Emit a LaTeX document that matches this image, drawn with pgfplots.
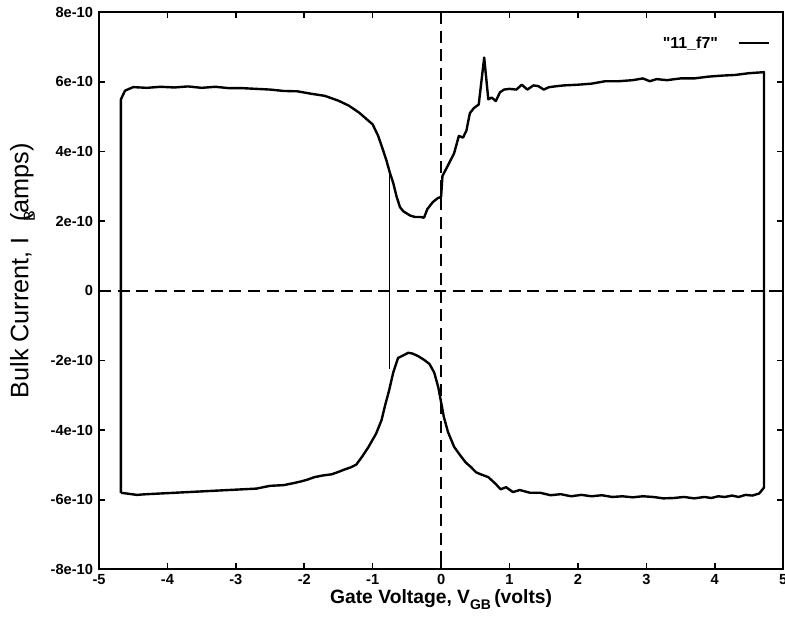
\documentclass[border={7.5pt 8pt -5pt 2pt}]{standalone}
\usepackage{fontspec}
\setmainfont{Liberation Sans}
\usepackage{pgfplots}
\pgfplotsset{compat=1.18}
\pgfplotstableread{
x y
-4.68 -5.80
-4.68 5.50
-4.62 5.75
-4.5 5.85
-4.3 5.83
-4.1 5.86
-3.9 5.84
-3.7 5.87
-3.5 5.83
-3.3 5.86
-3.1 5.82
-2.9 5.82
-2.7 5.80
-2.5 5.78
-2.3 5.74
-2.1 5.73
-1.9 5.66
-1.7 5.60
-1.5 5.46
-1.35 5.32
-1.2 5.12
-1.1 4.95
-1.0 4.78
-0.92 4.45
-0.85 4.05
-0.8 3.75
-0.75 3.40
-0.7 3.10
-0.65 2.70
-0.6 2.40
-0.55 2.28
-0.5 2.22
-0.45 2.16
-0.38 2.12
-0.3 2.12
-0.25 2.10
-0.2 2.35
-0.12 2.55
-0.05 2.66
0.0 2.70
0.02 3.30
0.1 3.60
0.19 3.95
0.26 4.45
0.32 4.40
0.37 4.60
0.42 5.10
0.48 5.25
0.55 5.35
0.63 6.70
0.69 5.50
0.74 5.55
0.8 5.45
0.86 5.70
0.92 5.78
1.0 5.80
1.1 5.78
1.18 5.92
1.26 5.78
1.35 5.90
1.42 5.88
1.5 5.78
1.58 5.85
1.7 5.88
1.8 5.90
2.0 5.92
2.2 5.95
2.4 6.02
2.6 6.02
2.8 6.05
2.95 6.10
3.05 6.02
3.15 6.08
3.3 6.05
3.5 6.10
3.7 6.10
3.9 6.15
4.1 6.18
4.3 6.20
4.5 6.25
4.72 6.28
4.72 -5.65
4.65 -5.82
4.55 -5.88
4.45 -5.86
4.35 -5.92
4.25 -5.88
4.15 -5.92
4.05 -5.90
3.95 -5.95
3.85 -5.92
3.7 -5.96
3.55 -5.92
3.4 -5.95
3.25 -5.96
3.1 -5.92
2.95 -5.90
2.8 -5.93
2.65 -5.90
2.5 -5.92
2.35 -5.87
2.2 -5.90
2.05 -5.86
1.9 -5.90
1.75 -5.84
1.6 -5.87
1.45 -5.80
1.3 -5.80
1.15 -5.72
1.05 -5.78
0.95 -5.64
0.87 -5.70
0.8 -5.55
0.69 -5.35
0.58 -5.27
0.51 -5.21
0.43 -5.05
0.36 -4.93
0.27 -4.70
0.19 -4.48
0.1 -4.05
0.04 -3.62
-0.04 -2.78
-0.1 -2.35
-0.17 -2.10
-0.25 -1.98
-0.34 -1.87
-0.42 -1.80
-0.48 -1.78
-0.55 -1.85
-0.63 -1.93
-0.7 -2.35
-0.76 -2.86
-0.82 -3.30
-0.87 -3.71
-0.95 -4.10
-1.06 -4.48
-1.15 -4.75
-1.24 -4.99
-1.32 -5.07
-1.41 -5.13
-1.5 -5.20
-1.6 -5.27
-1.72 -5.30
-1.85 -5.35
-1.95 -5.42
-2.04 -5.47
-2.15 -5.52
-2.3 -5.58
-2.5 -5.60
-2.7 -5.68
-2.9 -5.70
-3.1 -5.72
-3.3 -5.74
-3.5 -5.76
-3.7 -5.78
-3.9 -5.80
-4.1 -5.82
-4.3 -5.84
-4.45 -5.86
-4.6 -5.82
-4.68 -5.80
}\loopdata
\begin{document}
\begin{tikzpicture}
\begin{axis}[
  width=514.5pt, height=419pt, scale only axis,
  xmin=-5, xmax=5, ymin=-8, ymax=8,
  xtick={-5,-4,...,5},
  xticklabels={-5,-4,-3,-2,-1,0,1,2,3,4,5},
  ytick={-8,-6,...,8},
  yticklabels={-8e-10,-6e-10,-4e-10,-2e-10,0,2e-10,4e-10,6e-10,8e-10},
  tick align=inside, major tick length=4.5pt,
  tick style={line width=1.2pt, black},
  axis line style={line width=1.6pt},
  tick label style={font=\fontsize{11}{12}\selectfont\bfseries},
  yticklabel style={xshift=-1pt},
  xlabel={\bfseries Gate Voltage, V\raisebox{-0.6ex}{\fontsize{10.5}{10}\selectfont GB}\,(volts)},
  xlabel style={font=\fontsize{14.5}{15}\selectfont, yshift=3pt},
  ylabel={Bulk Current, I\hspace{0.6em}\rlap{\raisebox{-0.5ex}{\fontsize{12}{12}\selectfont B}}(amps)},
  ylabel style={font=\fontsize{19}{20}\selectfont, at={(axis description cs:0,0.5)},
    anchor=south, inner sep=0pt, yshift=48pt, xshift=15pt},
  legend style={at={(rel axis cs:1,1)}, anchor=north east, draw=none, fill=none,
    inner sep=0pt, xshift=-9.75pt, yshift=-16pt,
    font=\fontsize{12}{13}\selectfont\bfseries, legend cell align=right},
  legend plot pos=right,
  legend image code/.code={\path (0cm,0cm); \draw[#1, line width=1.2pt] (0.45cm,0cm) -- (1.25cm,0cm);},
]
\addplot[black, line width=1.1pt, dash pattern=on 9pt off 5pt, forget plot] coordinates {(0,8) (0,0)};
\addplot[black, line width=1.1pt, dash pattern=on 9pt off 5pt, forget plot] coordinates {(0,0) (0,-8)};
\addplot[black, line width=1.1pt, dash pattern=on 9pt off 5pt, forget plot] coordinates {(-5,0) (5,0)};
\addplot[black, line width=0.6pt, forget plot] coordinates {(-0.76,3.35) (-0.76,-2.25)};
\addplot[black, line width=1.8pt, line join=round] table[x=x,y=y]{\loopdata};
\addlegendentry{\textquotedbl 11\_f7\textquotedbl}
\end{axis}
\end{tikzpicture}
\end{document}
